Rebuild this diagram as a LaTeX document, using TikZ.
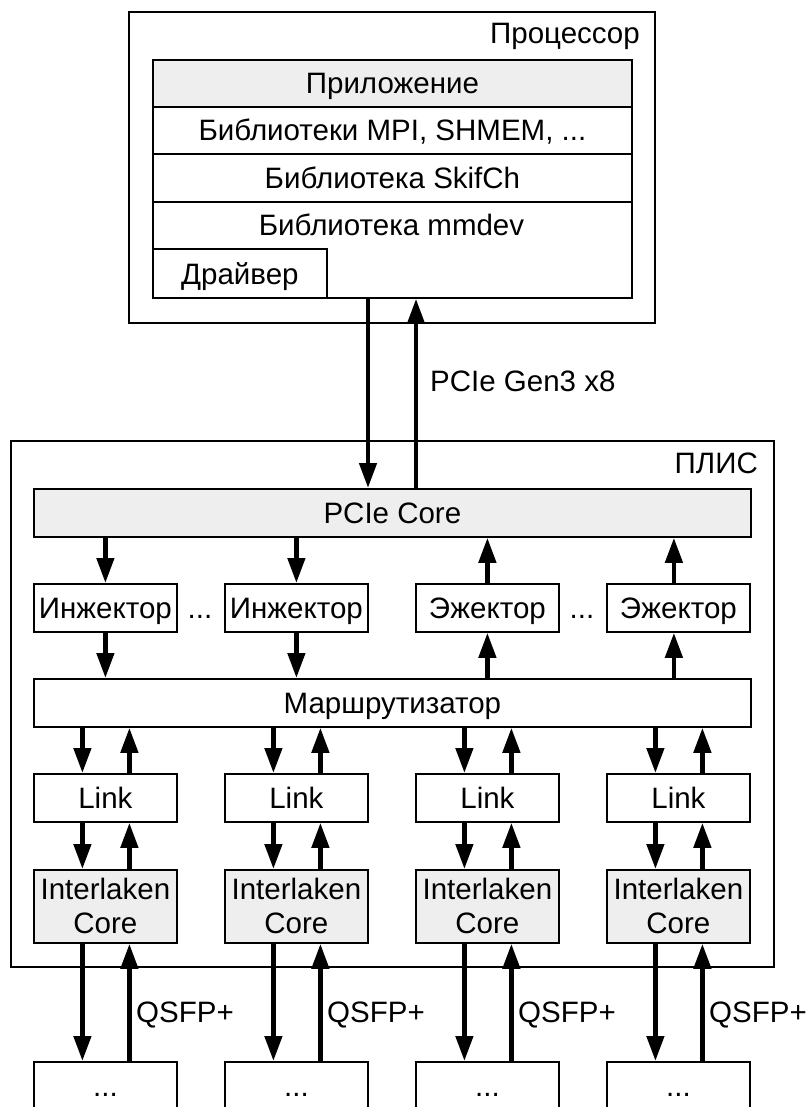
\documentclass[tikz,border=0pt]{standalone}
\usepackage{fontspec}
\setmainfont{Liberation Sans}
\usetikzlibrary{arrows.meta}
\definecolor{boxgray}{RGB}{238,238,238}
\begin{document}
\begin{tikzpicture}[x=1pt,y=-1pt,
  font=\fontsize{29.5}{34}\selectfont,
  frame/.style={draw=black, line width=1.8pt, inner sep=0pt, anchor=north west},
  box/.style={draw=black, line width=1.8pt, inner sep=0pt, anchor=north west,
    minimum width=143pt, minimum height=48pt, text height=21.2pt, text depth=0pt},
  ilbox/.style={draw=black, line width=1.8pt, inner sep=0pt, anchor=north west,
    minimum width=143pt, minimum height=73pt, fill=boxgray, align=center},
  txt/.style={inner sep=0pt, text height=21.2pt, text depth=0pt},
  arr/.style={line width=4.5pt, -{Triangle[length=25pt,width=17pt]}}]
\useasboundingbox (0,0) rectangle (810,1107);
\clip (0,0) rectangle (810,1107);

% ---------- Processor ----------
\node[frame, minimum width=526pt, minimum height=311pt] (cpu) at (128,11) {};
\node[anchor=base east, inner sep=0pt] (cpulbl) at (640,44) {Процессор};
\node[box, fill=boxgray, minimum width=479pt, minimum height=47pt] (app) at (152,59) {Приложение};
\node[box, minimum width=479pt, minimum height=47pt] (mpi) at (152,106) {Библиотеки MPI, SHMEM, ...};
\node[box, minimum width=479pt, minimum height=48pt] (skif) at (152,153) {Библиотека SkifCh};
\node[box, minimum width=479pt, minimum height=96pt] (mmdev) at (152,201) {};
\node[txt] (mmdevlbl) at (391.5,224.5) {Библиотека mmdev};
\node[box, minimum width=174pt, minimum height=49pt] (drv) at (152,248) {Драйвер};

% ---------- FPGA ----------
\node[frame, minimum width=763pt, minimum height=526pt] (fpga) at (10,440) {};
\node[anchor=base east, inner sep=0pt] (fpgalbl) at (758,473) {ПЛИС};
\node[box, fill=boxgray, minimum width=717pt] (pcie) at (33,488) {PCIe Core};

\node[box] (inj1) at (33,583) {Инжектор};
\node[box] (inj2) at (224,583) {Инжектор};
\node[box] (ej1) at (415,583) {Эжектор};
\node[box] (ej2) at (606,583) {Эжектор};
\node[anchor=base, inner sep=0pt] (dots1) at (200,618) {...};
\node[anchor=base, inner sep=0pt] (dots2) at (582,618) {...};

\node[box, minimum width=717pt] (router) at (33,678) {Маршрутизатор};

\foreach \i/\x in {1/33,2/224,3/415,4/606}{
  \node[box] (link\i) at (\x,773) {Link};
  \node[ilbox] (il\i) at (\x,869) {Interlaken\\Core};
  \node[box] (bot\i) at (\x,1061) {...};
}

% ---------- Processor <-> PCIe ----------
\coordinate (pdn) at (368,0);
\coordinate (pup) at (416,0);
\draw[arr] (mmdev.south -| pdn) -- (pcie.north -| pdn);
\draw[arr] (pcie.north -| pup) -- (mmdev.south -| pup);
\node[anchor=base west, inner sep=0pt] (pcielbl) at (430,391) {PCIe Gen3 x8};

% ---------- PCIe <-> injectors / ejectors ----------
\draw[arr] (inj1.north |- pcie.south) -- (inj1.north);
\draw[arr] (inj2.north |- pcie.south) -- (inj2.north);
\draw[arr] (ej1.north) -- (ej1.north |- pcie.south);
\draw[arr] ([xshift=-4.5pt]ej2.north) -- ([xshift=-4.5pt]ej2.north |- pcie.south);
\draw[arr] (inj1.south) -- (inj1.south |- router.north);
\draw[arr] (inj2.south) -- (inj2.south |- router.north);
\draw[arr] (ej1.south |- router.north) -- (ej1.south);
\draw[arr] ([xshift=-4.5pt]ej2.south |- router.north) -- ([xshift=-4.5pt]ej2.south);

% ---------- Router <-> links <-> Interlaken <-> outside ----------
\foreach \i in {1,2,3,4}{
  \draw[arr] ([xshift=-23pt]link\i.north |- router.south) -- ([xshift=-23pt]link\i.north);
  \draw[arr] ([xshift=24pt]link\i.north) -- ([xshift=24pt]link\i.north |- router.south);
  \draw[arr] ([xshift=-23pt]link\i.south) -- ([xshift=-23pt]il\i.north);
  \draw[arr] ([xshift=24pt]il\i.north) -- ([xshift=24pt]link\i.south);
  \draw[arr] ([xshift=-23pt]il\i.south) -- ([xshift=-23pt]bot\i.north);
  \draw[arr] ([xshift=24pt]bot\i.north) -- ([xshift=24pt]il\i.south);
}
\node[anchor=base west, inner sep=0pt] (q1) at (136,1022.5) {QSFP+};
\node[anchor=base west, inner sep=0pt] (q2) at (327,1022.5) {QSFP+};
\node[anchor=base west, inner sep=0pt] (q3) at (518,1022.5) {QSFP+};
\node[anchor=base west, inner sep=0pt] (q4) at (709,1022.5) {QSFP+};
\end{tikzpicture}
\end{document}
